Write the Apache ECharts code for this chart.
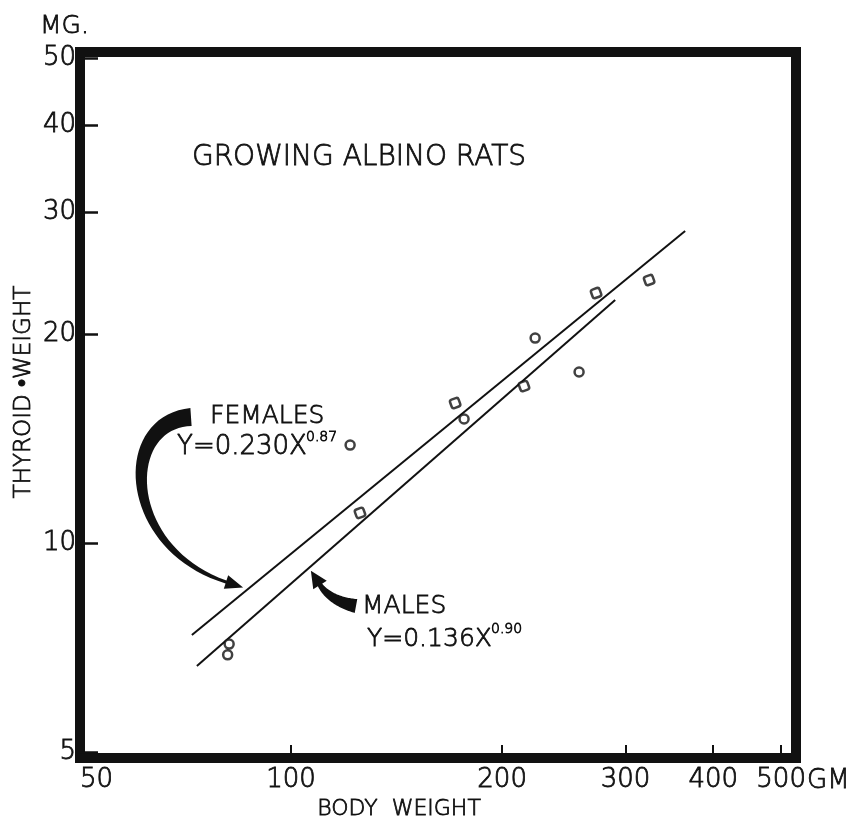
<!DOCTYPE html>
<html>
<head>
<meta charset="utf-8">
<script src="https://cdn.jsdelivr.net/npm/echarts@6/dist/echarts.min.js"></script>
<style>
  html, body { margin: 0; padding: 0; background: #fff; }
  #main { width: 856px; height: 822px; }
</style>
</head>
<body>
<div id="main"></div>
<script>
// 坐标轴刻度
var xTickLabels = [50, 100, 200, 300, 400, 500];
var xTicks = [100, 200, 300, 400, 500];
var yTickLabels = [5, 10, 20, 30, 40, 50];

// 圆点 (body weight GM, thyroid weight MG)
var circleWeights = [81.6, 81.2, 121.4, 176.5, 222.9, 257.5];
var circleThyroid = [7.15, 6.90, 13.84, 15.09, 19.74, 17.64];

// 方点
var squareWeights = [125.4, 171.4, 214.9, 272.3, 324.1];
var squareThyroid = [11.05, 15.91, 16.83, 22.92, 23.93];

// 回归线端点
var femaleWeights = [72.2, 364.8];
var femaleThyroid = [7.37, 28.16];
var maleWeights = [73.4, 289.9];
var maleThyroid = [6.65, 22.39];

var INK = '#111';

function pairs(xs, ys) {
    var out = [];
    for (var i = 0; i < xs.length; i++) {
        out.push([xs[i], ys[i]]);
    }
    return out;
}

// 粗的弯箭头 (bezier 中心线 + 渐变宽度)
function arrowPoints(p, w0, w1, headLen, headHalf) {
    function bez(t, k) {
        var u = 1 - t;
        return u*u*u*p[0][k] + 3*u*u*t*p[1][k] + 3*u*t*t*p[2][k] + t*t*t*p[3][k];
    }
    function der(t, k) {
        var u = 1 - t;
        return 3*u*u*(p[1][k]-p[0][k]) + 6*u*t*(p[2][k]-p[1][k]) + 3*t*t*(p[3][k]-p[2][k]);
    }
    var left = [], right = [];
    var n = 40;
    for (var i = 0; i <= n; i++) {
        var t = i / n;
        var x = bez(t, 0), y = bez(t, 1);
        var dx = der(t, 0), dy = der(t, 1);
        var len = Math.sqrt(dx*dx + dy*dy) || 1;
        var nx = -dy / len, ny = dx / len;
        var w = (w0 + (w1 - w0) * t) / 2;
        left.push([x + nx*w, y + ny*w]);
        right.push([x - nx*w, y - ny*w]);
    }
    var ex = p[3][0], ey = p[3][1];
    var tx = der(1, 0), ty = der(1, 1);
    var tl = Math.sqrt(tx*tx + ty*ty);
    tx /= tl; ty /= tl;
    var head = [
        [ex - ty*headHalf, ey + tx*headHalf],
        [ex + tx*headLen, ey + ty*headLen],
        [ex + ty*headHalf, ey - tx*headHalf]
    ];
    return left.concat(head, right.reverse());
}

var myChart = echarts.init(document.getElementById('main'));

var font = 'DejaVu Sans, Liberation Sans, sans-serif';
var W = 200;     // 细笔画
var EDGE = 0.8;  // 稍微加粗一点

function label(x, y, text, size, extra) {
    var el = {
        type: 'text', x: x, y: y,
        style: {
            text: text, fontSize: size, fontFamily: font, fontWeight: W,
            fill: INK, stroke: INK, lineWidth: EDGE, verticalAlign: 'middle'
        }
    };
    for (var k in extra) {
        if (k === 'rotation') el.rotation = extra[k];
        else el.style[k] = extra[k];
    }
    return el;
}

option = {
    backgroundColor: '#fff',
    animation: false,
    grid: {
        left: 80,
        right: 60,
        top: 52,
        bottom: 64,
        show: true,
        borderWidth: 10,
        borderColor: INK,
        backgroundColor: 'transparent',
        outerBoundsMode: 'none'
    },
    xAxis: {
        type: 'log',
        logBase: 10,
        min: 50,
        max: 525,
        axisLine: { show: false },
        splitLine: { show: false },
        axisTick: {
            show: true,
            inside: true,
            length: 13,
            customValues: xTicks,
            lineStyle: { color: INK, width: 2 }
        },
        axisLabel: {
            customValues: xTickLabels,
            margin: 9,
            color: INK,
            fontSize: 26,
            fontFamily: font,
            fontWeight: W,
            textBorderColor: INK,
            textBorderWidth: EDGE,
            alignMinLabel: 'left'
        }
    },
    yAxis: {
        type: 'log',
        logBase: 10,
        min: 4.9,
        max: 51,
        axisLine: { show: false },
        splitLine: { show: false },
        axisTick: {
            show: true,
            inside: true,
            length: 18,
            customValues: yTickLabels,
            lineStyle: { color: INK, width: 2.5 }
        },
        axisLabel: {
            customValues: yTickLabels,
            margin: 4,
            color: INK,
            fontSize: 26,
            fontFamily: font,
            fontWeight: W,
            textBorderColor: INK,
            textBorderWidth: EDGE
        }
    },
    series: [
        {
            name: 'Females',
            type: 'line',
            data: pairs(femaleWeights, femaleThyroid),
            symbol: 'none',
            lineStyle: { color: INK, width: 2 },
            z: 2
        },
        {
            name: 'Males',
            type: 'line',
            data: pairs(maleWeights, maleThyroid),
            symbol: 'none',
            lineStyle: { color: INK, width: 2 },
            z: 2
        },
        {
            name: 'circles',
            type: 'scatter',
            data: pairs(circleWeights, circleThyroid),
            symbol: 'circle',
            symbolSize: 9,
            itemStyle: { color: '#fff', borderColor: INK, borderWidth: 2.5 },
            z: 3
        },
        {
            name: 'squares',
            type: 'scatter',
            data: pairs(squareWeights, squareThyroid),
            symbol: 'roundRect',
            symbolSize: 9,
            symbolRotate: 20,
            itemStyle: { color: '#fff', borderColor: INK, borderWidth: 2.5 },
            z: 3
        }
    ],
    graphic: [
        label(40, 26, 'MG.', 25),
        label(359, 158, 'GROWING ALBINO RATS', 28, { align: 'center' }),
        label(24, 392, 'THYROID \u2022WEIGHT', 23, { align: 'center', rotation: Math.PI / 2 }),
        label(399, 809, 'BODY  WEIGHT', 22, { align: 'center' }),
        label(807, 781, 'GM', 26),
        label(210, 416, 'FEMALES', 25),
        label(177, 447, 'Y=0.230X', 26),
        label(306, 437, '0.87', 14),
        label(362, 606, 'MALES', 25),
        label(367, 639, 'Y=0.136X', 25),
        label(491, 629, '0.90', 14),
        {
            type: 'polygon',
            shape: { points: arrowPoints([[191, 417], [118, 422], [122, 548], [226, 582]], 18, 3, 18, 7) },
            style: { fill: INK }
        },
        {
            type: 'polygon',
            shape: { points: arrowPoints([[356, 606], [340, 603], [327, 596], [320, 585]], 14, 5, 17, 8) },
            style: { fill: INK }
        }
    ]
};

myChart.setOption(option);
</script>
</body>
</html>
